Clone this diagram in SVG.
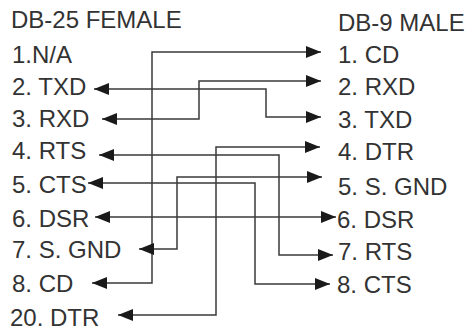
<svg xmlns="http://www.w3.org/2000/svg" width="469" height="332" viewBox="0 0 469 332">
<style>
text{font-family:"Liberation Sans",Arial,sans-serif;font-size:24px;fill:#333}
.w{fill:none;stroke:#3a3a3a;stroke-width:1.5;marker-start:url(#ah);marker-end:url(#ah)}
</style>
<defs>
<marker id="ah" viewBox="0 0 15 12" refX="15" refY="6" markerWidth="15" markerHeight="12" markerUnits="userSpaceOnUse" orient="auto-start-reverse">
<path d="M0,0 L15,6 L0,12 z" fill="#1a1a1a"/>
</marker>
</defs>
<rect width="469" height="332" fill="#fff"/>
<g id="db25">
<text x="11" y="28">DB-25 FEMALE</text>
<text x="12" y="63">1.N/A</text>
<text x="12" y="95">2. TXD</text>
<text x="12" y="127">3. RXD</text>
<text x="12" y="159">4. RTS</text>
<text x="12" y="193">5. CTS</text>
<text x="12" y="227">6. DSR</text>
<text x="12" y="258">7. S. GND</text>
<text x="12" y="292">8. CD</text>
<text x="10" y="326">20. DTR</text>
</g>
<g id="db9">
<text x="338" y="31">DB-9 MALE</text>
<text x="338" y="63">1. CD</text>
<text x="338" y="95">2. RXD</text>
<text x="338" y="128">3. TXD</text>
<text x="338" y="160">4. DTR</text>
<text x="338" y="195">5. S. GND</text>
<text x="337" y="228">6. DSR</text>
<text x="338" y="260">7. RTS</text>
<text x="337" y="293">8. CTS</text>
</g>
<g id="connectors">
<path class="w" d="M92,283 H152 V52 H321"/>
<path class="w" d="M102,119 H199 V81 H321"/>
<path class="w" d="M94,89 H266 V117 H321"/>
<path class="w" d="M118,315 H216 V147 H320"/>
<path class="w" d="M139,249 H177 V177 H322"/>
<path class="w" d="M95,217 H336"/>
<path class="w" d="M99,155 H279 V255 H333"/>
<path class="w" d="M88,183 H255 V284 H330"/>
</g>
</svg>
